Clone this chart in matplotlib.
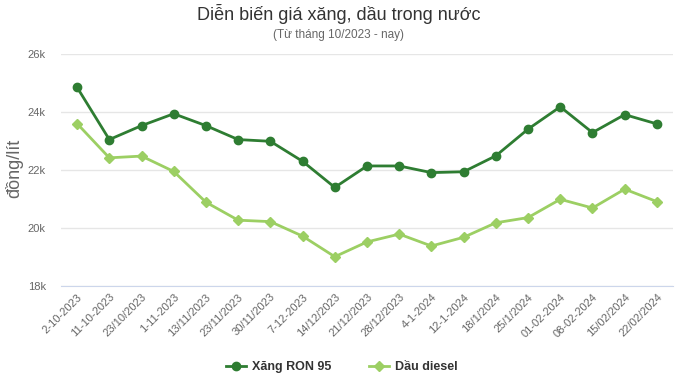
import matplotlib.pyplot as plt
from matplotlib.ticker import FuncFormatter

dates = ["2-10-2023", "11-10-2023", "23/10/2023", "1-11-2023", "13/11/2023",
         "23/11/2023", "30/11/2023", "7-12-2023", "14/12/2023", "21/12/2023",
         "28/12/2023", "4-1-2024", "12-1-2024", "18/1/2024", "25/1/2024",
         "01-02-2024", "08-02-2024", "15/02/2024", "22/02/2024"]

# gia tinh theo nghin dong/lit
ron95 = [24.86, 23.06, 23.54, 23.95, 23.54, 23.06, 23.00, 22.31, 21.41, 22.15,
         22.15, 21.92, 21.95, 22.50, 23.42, 24.19, 23.30, 23.92, 23.60]
diesel = [23.61, 22.43, 22.49, 21.96, 20.90, 20.28, 20.23, 19.73, 19.02, 19.53,
          19.80, 19.39, 19.69, 20.19, 20.37, 21.00, 20.70, 21.35, 20.92]

plt.rcParams['font.family'] = ['Liberation Sans', 'DejaVu Sans']

fig = plt.figure(figsize=(6.77, 3.77), dpi=100)
ax = fig.add_axes([61 / 677, 1 - 286.3 / 377, 612 / 677, 232 / 377])

x = list(range(len(dates)))
ax.plot(x, ron95, color='#2e7d32', lw=2, marker='o', ms=6, label='Xăng RON 95', zorder=3)
ax.plot(x, diesel, color='#9ccf63', lw=2, marker='D', ms=5, label='Dầu diesel', zorder=3)

ax.set_xlim(-0.5, len(dates) - 0.5)
ax.set_ylim(18, 26)
ax.set_yticks([18, 20, 22, 24, 26])
ax.yaxis.set_major_formatter(FuncFormatter(lambda v, p: f"{int(v)}k"))
ax.grid(axis='y', color='#e6e6e6', lw=1)
ax.set_axisbelow(True)
for s in ['top', 'right', 'left']:
    ax.spines[s].set_visible(False)
ax.spines['bottom'].set_color('#ccd6eb')
ax.tick_params(axis='y', length=0, labelsize=8, labelcolor='#666666', pad=11)
ax.tick_params(axis='x', length=0, labelsize=8, labelcolor='#666666', pad=4)
ax.set_xticks(x)
ax.set_xticklabels(dates, rotation=45, ha='right', va='top', rotation_mode='anchor')

fig.text(14 / 677, 1 - 168 / 377, 'đồng/lít', rotation=90, ha='center', va='center',
         fontsize=13, color='#666666')

fig.text(0.5, 0.962, 'Diễn biến giá xăng, dầu trong nước', ha='center', va='center',
         fontsize=13, color='#333333')
fig.text(0.5, 0.906, '(Từ tháng 10/2023 - nay)', ha='center', va='center',
         fontsize=8.5, color='#666666')

leg = fig.legend(loc='center', bbox_to_anchor=(0.505, 0.026), ncol=2, frameon=False,
                 fontsize=9, handlelength=1.6, columnspacing=3.0, handletextpad=0.5)
for t in leg.get_texts():
    t.set_fontweight('bold')
    t.set_color('#333333')

fig.savefig('out.png', dpi=100)
